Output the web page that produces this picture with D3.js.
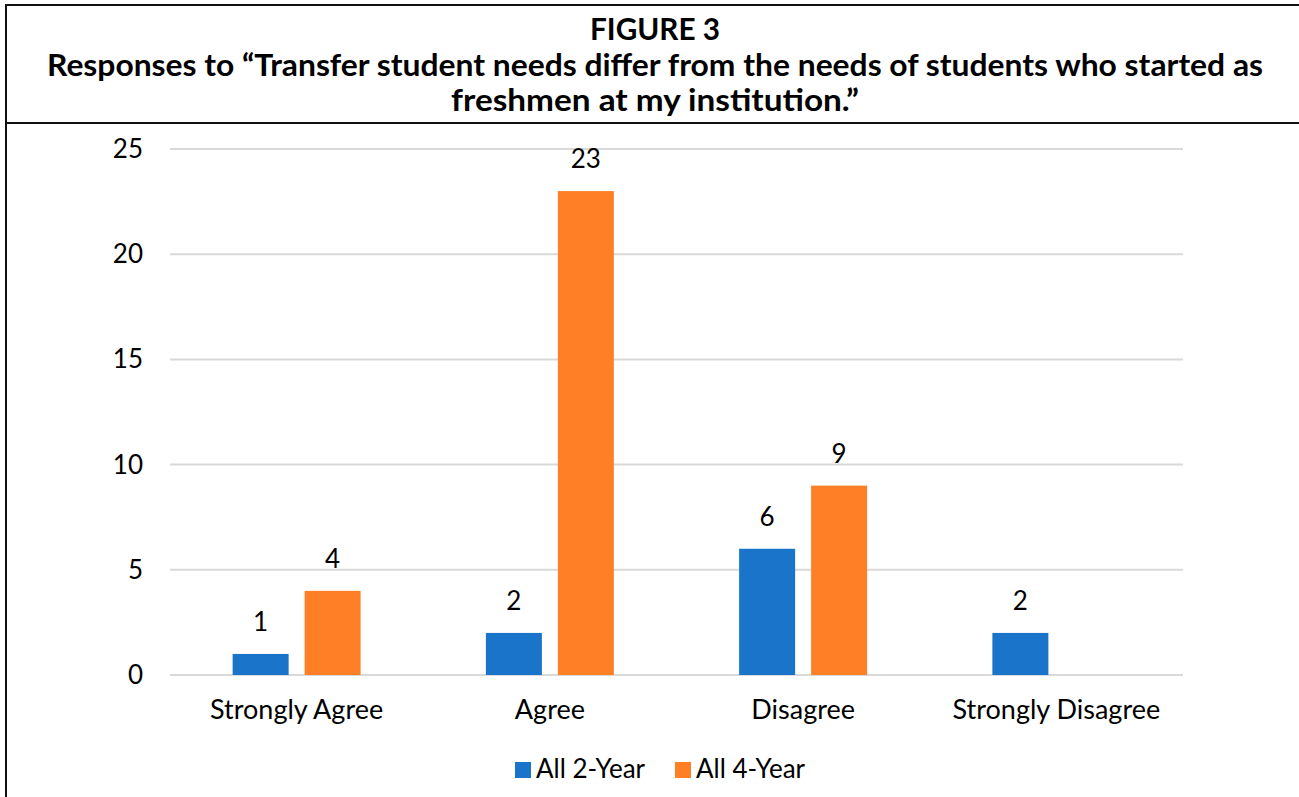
<!DOCTYPE html>
<html><head><meta charset="utf-8">
<script src="https://cdn.jsdelivr.net/npm/d3@7"></script>
<style>
html,body{margin:0;padding:0;background:#fff;}
svg{display:block;}
text{font-family:Lato,"Open Sans",sans-serif;}
</style></head>
<body><svg id="chart" width="1299" height="797"></svg>
<script>
const categories = ["Strongly Agree","Agree","Disagree","Strongly Disagree"];
const seriesNames = ["All 2-Year","All 4-Year"];
const twoYear = [1, 2, 6, 2];
const fourYear = [4, 23, 9, null];
const yTicks = [0,5,10,15,20,25];
const titleLines = ["FIGURE 3","Responses to \u201CTransfer student needs differ from the needs of students who started as","freshmen at my institution.\u201D"];
const colors = ["#1A74C9","#FF7F27"];

const svg = d3.select("#chart");
const W = 1299, H = 797;

// frame
svg.append("line").attr("x1",5).attr("x2",W).attr("y1",5).attr("y2",5).attr("stroke","#111").attr("stroke-width",2);
svg.append("line").attr("x1",5).attr("x2",W).attr("y1",123).attr("y2",123).attr("stroke","#111").attr("stroke-width",2);
svg.append("line").attr("x1",6).attr("x2",6).attr("y1",4).attr("y2",H).attr("stroke","#111").attr("stroke-width",2);

// title
const tY = [40, 76, 111];
const tW = [130, 1216, 408];
titleLines.forEach((t,i)=>{
  svg.append("text").attr("x",655).attr("y",tY[i]).attr("text-anchor","middle")
    .attr("font-size", 30).attr("font-weight","bold").attr("fill","#000")
    .attr("textLength", tW[i]).attr("lengthAdjust","spacingAndGlyphs")
    .text(t);
});

const x0 = d3.scaleBand().domain(categories).range([170,1183]);
const x1 = d3.scaleBand().domain(seriesNames).range([0,x0.bandwidth()]).paddingInner(0.222).paddingOuter(0.87);
const y = d3.scaleLinear().domain([0,25]).range([675,149]);

// grid
const g = svg.append("g");
g.selectAll("line.grid").data(yTicks).join("line")
  .attr("x1",170).attr("x2",1183)
  .attr("y1",d=>y(d)).attr("y2",d=>y(d))
  .attr("stroke","#d9d9d9").attr("stroke-width",2);

// y axis labels
g.selectAll("text.yt").data(yTicks).join("text")
  .attr("x",143).attr("y",d=>y(d)+9).attr("text-anchor","end")
  .attr("font-size",26).attr("fill","#000").text(d=>d);

// bars
const data = [];
categories.forEach((c,i)=>{
  [twoYear[i],fourYear[i]].forEach((v,j)=>{ if(v!=null) data.push({c, s:seriesNames[j], v, j}); });
});
g.selectAll("rect.bar").data(data).join("rect")
  .attr("x",d=>x0(d.c)+x1(d.s)).attr("width",x1.bandwidth())
  .attr("y",d=>y(d.v)).attr("height",d=>y(0)-y(d.v))
  .attr("fill",d=>colors[d.j]);

g.selectAll("text.lbl").data(data).join("text")
  .attr("x",d=>x0(d.c)+x1(d.s)+x1.bandwidth()/2).attr("y",d=>y(d.v)-23)
  .attr("text-anchor","middle").attr("font-size",26).attr("fill","#000").text(d=>d.v);

// x labels
g.selectAll("text.xl").data(categories).join("text")
  .attr("x",d=>x0(d)+x0.bandwidth()/2).attr("y",719)
  .attr("text-anchor","middle").attr("font-size",27).attr("fill","#000").text(d=>d);

// legend
const legX = [515, 675];
seriesNames.forEach((s,i)=>{
  svg.append("rect").attr("x",legX[i]).attr("y",762).attr("width",16).attr("height",16).attr("fill",colors[i]);
  svg.append("text").attr("x",legX[i]+21).attr("y",778).attr("font-size",26).attr("fill","#000").text(s);
});
</script></body></html>
